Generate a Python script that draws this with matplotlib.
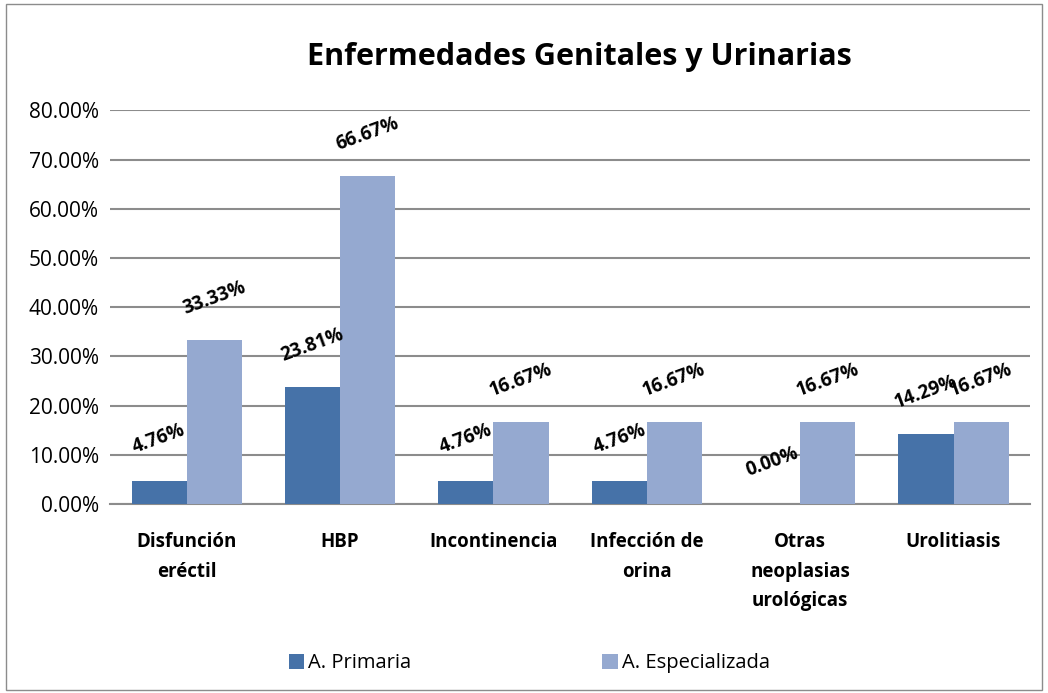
import matplotlib.pyplot as plt
import numpy as np
from matplotlib.patches import Rectangle

categories = ["Disfunción\neréctil", "HBP", "Incontinencia", "Infección de\norina",
              "Otras\nneoplasias\nurológicas", "Urolitiasis"]
primaria = [4.76, 23.81, 4.76, 4.76, 0.00, 14.29]
especializada = [33.33, 66.67, 16.67, 16.67, 16.67, 16.67]
series_names = ["A. Primaria", "A. Especializada"]

plt.rcParams["font.family"] = ["Open Sans", "DejaVu Sans"]

fig = plt.figure(figsize=(10.48, 6.93), dpi=100)
ax = fig.add_axes([0.105, 0.2727, 0.878, 0.568])

x = np.arange(len(categories))
w = 0.36
b1 = ax.bar(x - w / 2, primaria, w, color="#4672A8", label=series_names[0], zorder=3)
b2 = ax.bar(x + w / 2, especializada, w, color="#95A9D0", label=series_names[1], zorder=3)

for bars, vals in ((b1, primaria), (b2, especializada)):
    for rect, v in zip(bars, vals):
        ax.annotate(f"{v:.2f}%", (rect.get_x() + rect.get_width() / 2, v),
                    xytext=(0, 30), textcoords="offset points", ha="center", va="center",
                    rotation=20, fontsize=13.5, fontweight="bold", zorder=4)

ax.set_ylim(0, 80)
ax.set_xlim(-0.5, len(categories) - 0.5)
ax.set_yticks(np.arange(0, 81, 10))
ax.set_yticklabels([f"{t:.2f}%" for t in np.arange(0, 81, 10)], fontsize=15)
ax.yaxis.grid(True, color="#8c8c8c", linewidth=1.5, zorder=0)
ax.tick_params(axis="y", length=0, pad=8)
ax.tick_params(axis="x", length=0, pad=20)
ax.set_xticks(x)
ax.set_xticklabels(categories, fontsize=13.5, fontweight="bold", va="top", linespacing=1.65)
for s in ("top", "right", "left"):
    ax.spines[s].set_visible(False)
ax.spines["bottom"].set_color("#8c8c8c")
ax.spines["bottom"].set_linewidth(1.5)

fig.text(0.553, 0.918, "Enfermedades Genitales y Urinarias", ha="center", va="center",
         fontsize=22, fontweight="bold")

fig.legend(loc="center", bbox_to_anchor=(0.505, 0.043), ncol=2, frameon=False,
           fontsize=14.5, handlelength=0.75, handleheight=0.75, handletextpad=0.2,
           columnspacing=9.5)

fig.patches.append(Rectangle((0.006, 0.004), 0.988, 0.99, transform=fig.transFigure,
                             fill=False, edgecolor="#8c8c8c", linewidth=1))

fig.savefig("out.png", dpi=100)
